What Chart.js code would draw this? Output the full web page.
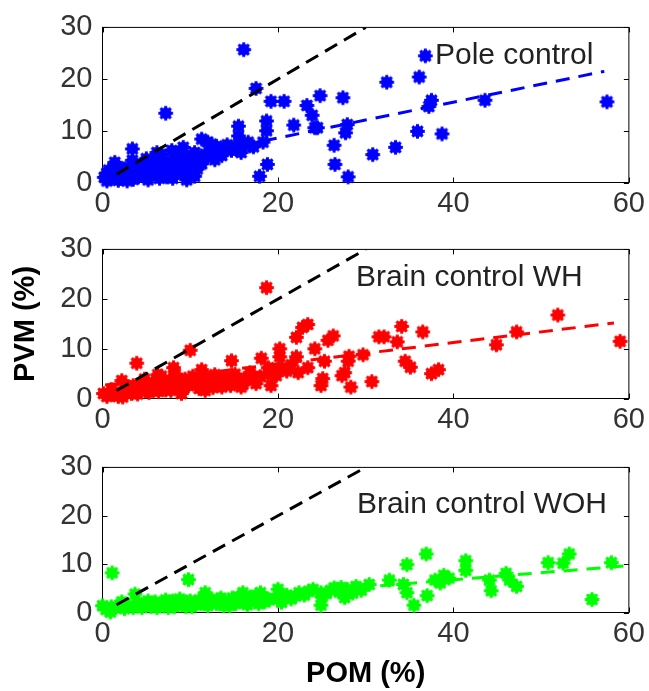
<!DOCTYPE html>
<html>
<head>
<meta charset="utf-8">
<script src="https://cdn.jsdelivr.net/npm/chart.js@4.4.0/dist/chart.umd.min.js"></script>
<style>
html, body { margin: 0; padding: 0; background: #fff; }
#wrap { position: relative; width: 649px; height: 691px; }
canvas { position: absolute; left: 0; }
</style>
</head>
<body>
<div id="wrap">
  <canvas id="poleChart" width="649" height="222" style="top:0px"></canvas>
  <canvas id="whChart" width="649" height="218" style="top:222px"></canvas>
  <canvas id="wohChart" width="649" height="251" style="top:440px"></canvas>
</div>
<script>
// Data (POM % vs PVM %)
const xTicks = [0, 20, 40, 60];
const yTicks = [0, 10, 20, 30];
const panelNames = ['Pole control', 'Brain control WH', 'Brain control WOH'];

// unity line y = x
const unityX = [1.6, 30];
const unityY = [1.6, 30];

// Pole control (blue)
const poleX = [0.2, 0.5, 0.7, 1.0, 1.4, 1.4, 1.8, 2.0, 2.3, 2.6, 2.8, 3.0, 3.4, 3.4, 3.7, 4.1, 4.5, 4.8, 5.2, 5.6,
  6.0, 6.0, 6.4, 6.7, 6.7, 7.0, 7.3, 7.6, 7.9, 7.9, 8.2, 8.4, 8.6, 9.0, 9.2, 9.4, 9.6, 9.9, 10.2, 10.5,
  10.8, 11.3, 11.3, 11.7, 12.0, 12.4, 12.6, 13.0, 13.2, 13.6, 13.9, 14.2, 14.7, 14.9, 15.2, 15.5, 15.5, 15.5, 15.8, 16.0,
  16.1, 16.6, 16.8, 17.2, 17.5, 17.9, 18.3, 18.7, 18.7, 18.8, 19.2, 20.7, 21.8, 23.3, 23.9, 24.2, 24.5, 24.8, 26.4, 26.5,
  27.4, 27.7, 27.9, 28.0, 30.8, 32.4, 33.4, 35.9, 36.1, 36.8, 37.2, 37.5, 38.7, 43.6, 57.5, 7.2,
  1.0, 2.0, 3.5, 4.0, 5.0, 5.5, 6.5, 7.0, 8.0, 8.8, 9.5, 10.5, 11.0, 12.0, 12.8, 3.0, 1.8, 0.5, 5.0, 6.2];
const poleY = [1.0, 0.3, 2.4, 0.8, 3.9, 1.1, 0.4, 2.7, 1.5, 1.1, 0.3, 1.7, 4.3, 6.5, 2.0, 1.1, 3.6, 2.7, 0.5, 1.7,
  3.0, 4.3, 2.2, 3.6, 5.5, 1.5, 1.1, 2.6, 3.0, 6.2, 4.6, 1.7, 5.5, 4.3, 6.8, 1.7, 0.5, 4.9, 3.2, 5.8,
  2.6, 3.6, 8.4, 5.5, 7.8, 7.4, 6.1, 7.0, 6.5, 5.2, 6.8, 7.3, 6.2, 6.6, 6.9, 6.5, 9.0, 10.9, 5.8, 7.4,
  25.7, 7.8, 7.1, 6.9, 18.2, 1.2, 7.8, 10.0, 11.9, 3.5, 15.7, 15.7, 11.1, 14.9, 13.0, 10.6, 10.6, 16.8, 7.2, 3.5,
  16.4, 9.6, 11.2, 1.1, 5.4, 19.4, 6.8, 9.9, 20.4, 24.5, 14.7, 15.9, 9.4, 15.9, 15.6, 13.4,
  2.0, 0.8, 0.6, 2.6, 1.2, 3.2, 0.8, 4.2, 0.8, 3.0, 2.8, 1.2, 4.6, 5.0, 4.4, 3.0, 3.0, 1.8, 4.6, 5.8];
const poleFitX = [0.3, 57.2];
const poleFitY = [1.8, 21.5];

// Brain control WH (red)
const whX = [0.1, 0.5, 1.0, 1.4, 1.8, 2.2, 2.3, 2.6, 3.0, 3.3, 3.7, 3.9, 4.3, 4.8, 4.8, 5.3, 5.7, 6.0, 6.3, 6.7,
  6.7, 7.2, 7.6, 8.1, 8.3, 8.7, 9.0, 9.4, 9.8, 10.0, 10.3, 10.5, 11.0, 11.3, 11.7, 11.7, 12.2, 12.8, 13.3, 13.6,
  13.6, 14.2, 14.7, 15.1, 15.8, 16.2, 16.8, 17.3, 18.1, 18.7, 18.9, 18.9, 19.5, 20.2, 20.2, 20.4, 21.0, 21.5, 22.1, 22.1,
  22.3, 22.8, 23.4, 23.4, 24.2, 24.9, 25.1, 25.3, 25.7, 26.3, 27.3, 27.6, 28.0, 28.1, 28.3, 29.7, 30.7, 31.5, 32.1, 33.6,
  34.1, 34.5, 35.1, 36.5, 37.5, 38.3, 44.9, 47.2, 51.9, 59.0,
  1.2, 2.0, 2.8, 3.5, 4.0, 5.0, 5.6, 6.4, 7.0, 7.8, 8.0, 8.6, 9.2, 10.0, 10.8, 11.4, 12.0, 12.6, 13.0, 14.0,
  14.6, 15.4, 16.0, 16.6, 17.5, 18.0, 19.2, 19.8];
const whY = [1.0, 0.4, 1.8, 1.3, 0.4, 3.6, 0.3, 2.0, 2.3, 1.0, 1.6, 7.1, 2.8, 2.3, 3.9, 1.2, 3.2, 2.9, 4.8, 2.9,
  4.5, 1.7, 3.4, 6.2, 4.9, 2.5, 1.0, 3.9, 2.6, 9.7, 4.5, 3.6, 2.0, 5.8, 4.2, 1.6, 3.2, 4.8, 2.8, 3.6,
  2.3, 4.4, 7.6, 4.9, 2.3, 3.6, 5.2, 4.5, 8.1, 22.3, 4.9, 6.2, 5.7, 10.0, 8.4, 6.2, 5.5, 6.8, 12.3, 8.4,
  5.2, 14.3, 14.9, 6.2, 10.0, 2.6, 4.0, 7.5, 11.7, 12.6, 4.6, 5.2, 7.5, 8.5, 2.3, 8.8, 3.4, 12.4, 12.4, 11.4,
  14.5, 7.5, 6.3, 13.4, 5.0, 5.8, 10.8, 13.4, 16.8, 11.5,
  0.8, 1.0, 1.2, 2.6, 0.9, 1.6, 2.4, 1.4, 2.6, 1.6, 3.4, 4.0, 2.0, 3.0, 3.0, 2.6, 4.0, 2.2, 4.2, 3.0,
  2.6, 4.0, 2.8, 4.0, 3.0, 4.4, 2.6, 4.6];
const whFitX = [0.3, 58.3];
const whFitY = [2.7, 15.2];

// Brain control WOH (green)
const wohX = [0.0, 0.4, 0.9, 1.1, 1.5, 2.0, 2.5, 3.0, 3.7, 4.0, 4.5, 5.0, 5.5, 6.0, 6.5, 7.0, 7.5, 8.0, 8.5, 9.0,
  9.5, 9.8, 10.0, 10.5, 11.0, 11.7, 12.0, 12.5, 13.0, 13.5, 14.0, 14.5, 15.0, 15.5, 15.8, 16.0, 16.5, 17.2, 17.5, 18.0,
  18.1, 18.5, 20.0, 20.0, 20.4, 21.0, 22.0, 22.4, 23.0, 24.0, 24.9, 24.9, 25.5, 26.4, 27.0, 27.6, 27.9, 28.9, 30.4, 32.7,
  34.3, 34.7, 34.7, 35.5, 36.9, 37.0, 37.9, 38.5, 38.9, 39.5, 41.4, 41.4, 44.1, 44.3, 46.0, 46.4, 47.2, 50.8, 52.5, 53.2,
  55.8, 58.0,
  1.0, 2.2, 3.5, 4.2, 5.2, 6.2, 7.2, 8.2, 8.8, 9.6, 10.2, 11.2, 12.2, 13.2, 13.8, 14.8, 15.2, 16.2, 16.8, 17.8,
  18.4, 19.0, 21.5, 23.5, 25.0, 26.0, 27.2, 28.5, 29.5];
const wohY = [1.4, 0.6, 0.1, 8.2, 1.0, 1.6, 0.8, 1.4, 3.8, 2.0, 1.0, 1.8, 1.2, 2.2, 1.4, 2.0, 1.0, 2.4, 1.6, 2.2,
  1.2, 6.8, 2.4, 1.6, 2.6, 4.1, 1.4, 2.6, 1.8, 3.0, 2.2, 1.4, 2.6, 3.2, 2.4, 4.1, 1.6, 2.8, 3.6, 4.1,
  3.1, 2.2, 4.8, 2.8, 2.1, 3.6, 3.4, 4.1, 3.6, 4.8, 4.1, 1.5, 3.9, 5.1, 4.2, 3.1, 4.8, 5.4, 5.8, 6.7,
  5.8, 4.1, 9.9, 1.5, 12.1, 3.5, 6.7, 6.1, 7.7, 7.1, 10.7, 8.7, 6.7, 4.5, 8.1, 6.7, 5.4, 10.3, 10.2, 12.1,
  2.7, 10.3,
  1.2, 2.2, 1.0, 1.4, 2.4, 1.0, 2.6, 1.2, 2.8, 2.2, 1.2, 1.8, 2.2, 2.6, 1.4, 3.0, 1.8, 2.6, 3.2, 1.8,
  3.2, 2.6, 2.8, 4.4, 3.2, 4.6, 5.2, 4.0, 4.6];
const wohFitX = [0.3, 60];
const wohFitY = [0.9, 9.7];

function toPoints(xs, ys) {
  return xs.map((x, i) => ({ x: x, y: ys[i] }));
}

const FONT = "'Liberation Sans', Arial, Helvetica, sans-serif";

// thick matlab-like '*' marker
function starMarker(color) {
  const c = document.createElement('canvas');
  c.width = 17; c.height = 17;
  const g = c.getContext('2d');
  g.strokeStyle = color;
  g.fillStyle = color;
  g.lineWidth = 3;
  g.beginPath();
  for (let k = 0; k < 8; k++) {
    const a = k * Math.PI / 4;
    g.moveTo(8.5, 8.5);
    g.lineTo(8.5 + 7.3 * Math.cos(a), 8.5 + 7.3 * Math.sin(a));
  }
  g.stroke();
  g.beginPath();
  g.arc(8.5, 8.5, 5.8, 0, Math.PI * 2);
  g.fill();
  return c;
}

// box, inward ticks and panel label
const framePlugin = {
  id: 'frame',
  beforeDatasetsDraw(chart) {
    const { ctx, chartArea: a, scales: { x, y } } = chart;
    ctx.save();
    ctx.strokeStyle = '#000';
    ctx.lineWidth = 1;
    ctx.strokeRect(a.left, a.top, a.right - a.left, a.bottom - a.top);
    ctx.beginPath();
    xTicks.forEach(v => {
      const px = Math.round(x.getPixelForValue(v)) + 0.5;
      ctx.moveTo(px, a.bottom); ctx.lineTo(px, a.bottom - 5);
      ctx.moveTo(px, a.top); ctx.lineTo(px, a.top + 5);
    });
    yTicks.forEach(v => {
      const py = Math.round(y.getPixelForValue(v)) + 0.5;
      ctx.moveTo(a.left, py); ctx.lineTo(a.left + 5, py);
      ctx.moveTo(a.right, py); ctx.lineTo(a.right - 5, py);
    });
    ctx.stroke();
    ctx.restore();
  },
  afterDatasetsDraw(chart, args, opts) {
    const { ctx, scales: { x, y } } = chart;
    ctx.save();
    ctx.fillStyle = '#222';
    ctx.font = '30px ' + FONT;
    ctx.textAlign = 'left';
    ctx.textBaseline = 'middle';
    ctx.fillText(opts.text, x.getPixelForValue(opts.at[0]), y.getPixelForValue(opts.at[1]));
    ctx.restore();
  }
};

function makePanel(id, cfg) {
  const ctx = document.getElementById(id).getContext('2d');
  return new Chart(ctx, {
    type: 'scatter',
    data: {
      datasets: [
        {
          data: toPoints(unityX, unityY),
          showLine: true,
          borderColor: '#000',
          borderWidth: 3,
          borderDash: [14, 8],
          pointRadius: 0,
          order: 0
        },
        {
          data: toPoints(cfg.fitX, cfg.fitY),
          showLine: true,
          borderColor: cfg.color,
          borderWidth: 3,
          borderDash: [14, 9],
          pointRadius: 0,
          order: 0
        },
        {
          data: toPoints(cfg.xs, cfg.ys),
          pointStyle: starMarker(cfg.color),
          pointRadius: 7,
          borderColor: cfg.color,
          backgroundColor: cfg.color,
          clip: false,
          order: 1
        }
      ]
    },
    options: {
      responsive: false,
      animation: false,
      layout: { padding: { top: cfg.padTop, right: 19, left: 0, bottom: 0 } },
      plugins: {
        legend: { display: false },
        tooltip: { enabled: false },
        frame: { text: cfg.label, at: cfg.labelAt }
      },
      scales: {
        x: {
          type: 'linear',
          min: 0,
          max: 60,
          grid: { display: false, drawTicks: false },
          border: { display: false },
          afterFit: s => { s.height = cfg.xAxisH; },
          afterBuildTicks: s => { s.ticks = xTicks.map(v => ({ value: v })); },
          ticks: { color: '#333', padding: 4, font: { family: FONT, size: 29 } },
          title: {
            display: !!cfg.xTitle,
            text: cfg.xTitle || '',
            color: '#000',
            padding: { top: 0, bottom: 3 },
            font: { family: FONT, size: 29, weight: 'bold', lineHeight: 1 }
          }
        },
        y: {
          min: 0,
          max: 30,
          grid: { display: false, drawTicks: false },
          border: { display: false },
          afterFit: s => { s.width = 102.5; },
          afterBuildTicks: s => { s.ticks = yTicks.map(v => ({ value: v })); },
          ticks: { color: '#333', padding: 10, font: { family: FONT, size: 29 } },
          title: {
            display: !!cfg.yTitle,
            text: cfg.yTitle || '',
            color: '#000',
            padding: { top: 11, bottom: 0 },
            font: { family: FONT, size: 29, weight: 'bold', lineHeight: 1 }
          }
        }
      }
    },
    plugins: [framePlugin]
  });
}

makePanel('poleChart', {
  xs: poleX, ys: poleY, fitX: poleFitX, fitY: poleFitY, color: '#0000ff',
  label: panelNames[0], labelAt: [37.9, 24.5], padTop: 24.5, xAxisH: 39.5
});
makePanel('whChart', {
  xs: whX, ys: whY, fitX: whFitX, fitY: whFitY, color: '#ff0000',
  label: panelNames[1], labelAt: [28.9, 24.2], padTop: 21.5, xAxisH: 41.5,
  yTitle: 'PVM (%)'
});
makePanel('wohChart', {
  xs: wohX, ys: wohY, fitX: wohFitX, fitY: wohFitY, color: '#00ff00',
  label: panelNames[2], labelAt: [29.0, 22.2], padTop: 18.5, xAxisH: 78.5,
  xTitle: 'POM (%)'
});
</script>
</body>
</html>
